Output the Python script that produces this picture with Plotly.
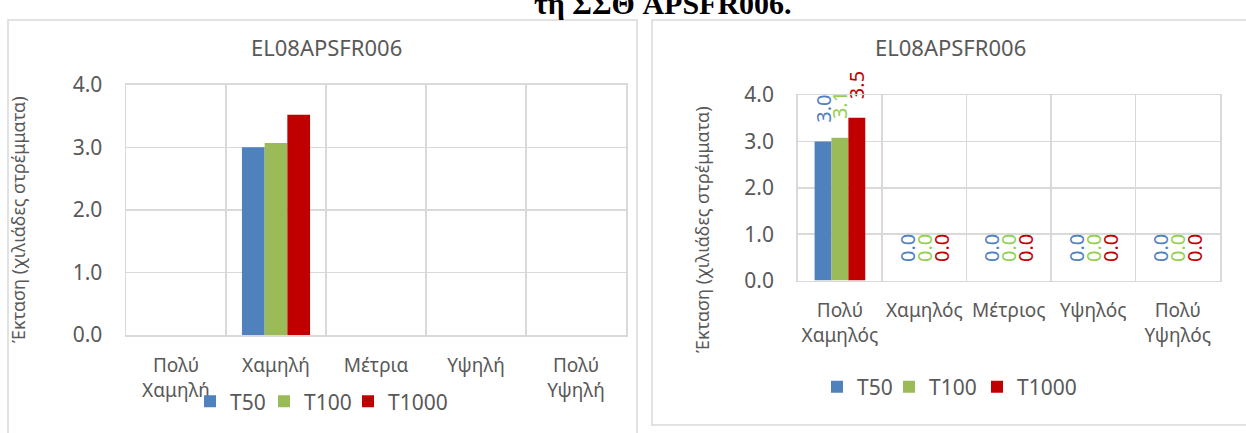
import plotly.graph_objects as go

# ---------------- data ----------------
cats_left = ["Πολύ<br>Χαμηλή", "Χαμηλή", "Μέτρια", "Υψηλή", "Πολύ<br>Υψηλή"]
cats_right = ["Πολύ<br>Χαμηλός", "Χαμηλός", "Μέτριος", "Υψηλός", "Πολύ<br>Υψηλός"]
series_names = ["T50", "T100", "T1000"]
left_T50 = [0, 3.0, 0, 0, 0]
left_T100 = [0, 3.07, 0, 0, 0]
left_T1000 = [0, 3.52, 0, 0, 0]
right_T50 = [3.0, 0, 0, 0, 0]
right_T100 = [3.08, 0, 0, 0, 0]
right_T1000 = [3.51, 0, 0, 0, 0]
y_ticks = [0, 1, 2, 3, 4]
y_ticklabels = ["0.0", "1.0", "2.0", "3.0", "4.0"]
chart_title = "EL08APSFR006"
y_title = "Έκταση (χιλιάδες στρέμματα)"
page_title = "τη ΣΣΘ APSFR006."

# ---------------- styles ----------------
W, H = 1246, 433
FONT = "Noto Sans"
GREY = "#595959"
GRID = "#d9d9d9"
bar_colors = ["#4F81BD", "#9BBB59", "#C00000"]
label_colors = ["#4F81BD", "#92D050", "#C00000"]
# legend entry positions (left px of each legend box, centre y px)
left_legend_x = [190, 264, 348]
left_legend_y = 401.7
right_legend_x = [817, 889, 977]
right_legend_y = 387


def px(x):
    return x / W


def py(y):
    return 1 - y / H


fig = go.Figure()

left_vals = [left_T50, left_T100, left_T1000]
right_vals = [right_T50, right_T100, right_T1000]
left_w, right_w = 0.227, 0.2

for i, (name, vals) in enumerate(zip(series_names, left_vals)):
    fig.add_trace(go.Bar(
        x=cats_left, y=vals, name=name, marker_color=bar_colors[i],
        marker_line_width=0,
        width=left_w, offset=-1.5 * left_w + i * left_w,
        xaxis="x", yaxis="y", legend="legend" if i == 0 else f"legend{i + 1}",
        showlegend=True,
    ))

for i, (name, vals) in enumerate(zip(series_names, right_vals)):
    fig.add_trace(go.Bar(
        x=cats_right, y=vals, name=name, marker_color=bar_colors[i],
        marker_line_width=0,
        width=right_w, offset=-1.5 * right_w + i * right_w,
        texttemplate="\u00a0\u00a0\u00a0%{y:.1f}", textposition="outside",
        textangle=-90, constraintext="none", cliponaxis=False,
        textfont=dict(family=FONT, size=20, color=label_colors[i]),
        xaxis="x2", yaxis="y2", legend=f"legend{i + 4}", showlegend=True,
    ))

axis_common = dict(
    showgrid=True, gridcolor=GRID, gridwidth=1.5,
    showline=True, linecolor=GRID, linewidth=1.5, mirror=True,
    zeroline=False, ticks="", automargin=False,
)
xfont = dict(family=FONT, size=19, color=GREY)
yfont = dict(family=FONT, size=21, color=GREY)

legends = {}
for i in range(3):
    key = "legend" if i == 0 else f"legend{i + 1}"
    legends[key] = dict(orientation="h", x=px(left_legend_x[i]), y=py(left_legend_y),
                        xanchor="left", yanchor="middle",
                        font=dict(family=FONT, size=21, color=GREY),
                        bgcolor="rgba(0,0,0,0)")
    legends[f"legend{i + 4}"] = dict(orientation="h", x=px(right_legend_x[i]), y=py(right_legend_y),
                                     xanchor="left", yanchor="middle",
                                     font=dict(family=FONT, size=21, color=GREY),
                                     bgcolor="rgba(0,0,0,0)")

fig.update_layout(
    template="none",
    width=W, height=H,
    margin=dict(l=0, r=0, t=0, b=0, autoexpand=False),
    paper_bgcolor="white", plot_bgcolor="white",
    barmode="overlay",
    xaxis=dict(domain=[px(126), px(626)], anchor="y", type="category",
               tickson="boundaries", range=[-0.5, 4.5], fixedrange=True,
               tickangle=0, ticklabelstandoff=13, tickfont=xfont, **axis_common),
    yaxis=dict(domain=[py(335.1), py(84.7)], anchor="x", range=[0, 4],
               tickvals=y_ticks, ticktext=y_ticklabels, ticklabelstandoff=18,
               tickfont=yfont, **axis_common),
    xaxis2=dict(domain=[px(797.7), px(1220)], anchor="y2", type="category",
                tickson="boundaries", range=[-0.5, 4.5], fixedrange=True,
                tickangle=0, ticklabelstandoff=12, tickfont=xfont, **axis_common),
    yaxis2=dict(domain=[py(280.6), py(95)], anchor="x2", range=[0, 4],
                tickvals=y_ticks, ticktext=y_ticklabels, ticklabelstandoff=18,
                tickfont=yfont, **axis_common),
    showlegend=True,
    **legends,
)

# panel frames
fig.add_shape(type="rect", xref="paper", yref="paper",
              x0=px(8), x1=px(637), y0=py(445), y1=py(20),
              line=dict(color=GRID, width=1.5), fillcolor="rgba(0,0,0,0)", layer="below")
fig.add_shape(type="rect", xref="paper", yref="paper",
              x0=px(652), x1=px(1252), y0=py(425), y1=py(20),
              line=dict(color=GRID, width=1.5), fillcolor="rgba(0,0,0,0)", layer="below")

annots = [
    dict(text=chart_title, x=px(326), y=py(47), yanchor="middle",
         font=dict(family=FONT, size=22, color=GREY)),
    dict(text=chart_title, x=px(950), y=py(47), yanchor="middle",
         font=dict(family=FONT, size=22, color=GREY)),
    dict(text=y_title, x=px(18), y=py(220), yanchor="middle", textangle=-90,
         font=dict(family=FONT, size=18, color=GREY)),
    dict(text=y_title, x=px(702), y=py(230), yanchor="middle", textangle=-90,
         font=dict(family=FONT, size=18, color=GREY)),
    dict(text="<b>" + page_title + "</b>", x=px(663), y=py(22), yanchor="bottom",
         font=dict(family="Liberation Serif", size=30, color="black")),
]
for a in annots:
    fig.add_annotation(xref="paper", yref="paper", xanchor="center",
                       showarrow=False, **a)

fig.write_html("out.html", post_script="document.body.style.margin='0';",
               config={"displayModeBar": False, "staticPlot": True})
